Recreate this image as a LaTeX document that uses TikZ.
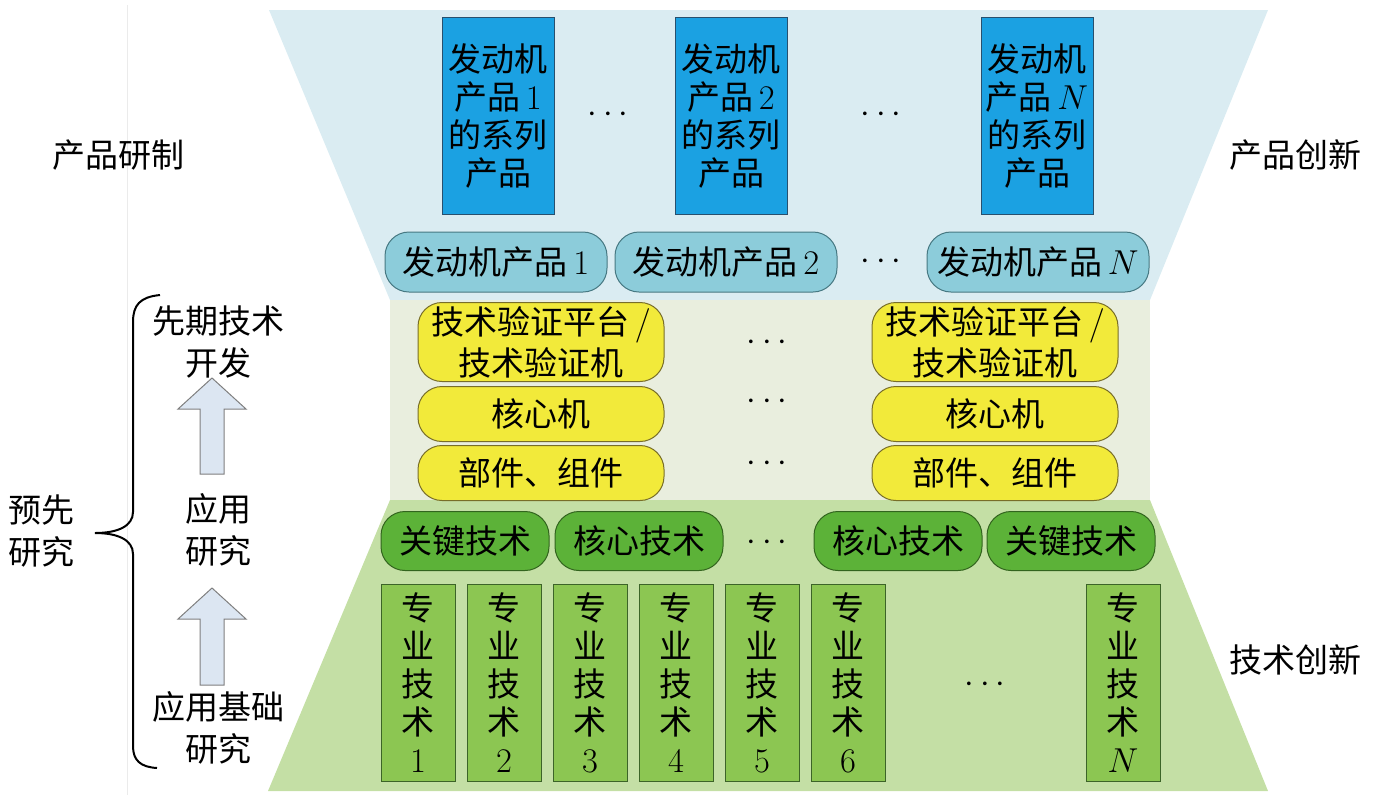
\documentclass[tikz,border=0pt]{standalone}
\usepackage{fontspec}
\usepackage{tikz}
\usetikzlibrary{positioning}
\newfontfamily\cjk{Noto Sans CJK SC}
\definecolor{bandSky}{RGB}{218,236,242}
\definecolor{bandSand}{RGB}{233,238,222}
\definecolor{bandLeaf}{RGB}{196,223,165}
\definecolor{seriesBlue}{RGB}{27,161,226}
\definecolor{seriesEdge}{RGB}{40,80,110}
\definecolor{prodTeal}{RGB}{140,204,218}
\definecolor{prodEdge}{RGB}{70,120,130}
\definecolor{verifYellow}{RGB}{242,234,58}
\definecolor{verifEdge}{RGB}{120,110,40}
\definecolor{keyGreen}{RGB}{92,178,56}
\definecolor{keyEdge}{RGB}{50,100,30}
\definecolor{specGreen}{RGB}{140,198,82}
\definecolor{specEdge}{RGB}{60,100,40}
\definecolor{arrowFill}{RGB}{220,230,242}
\definecolor{arrowEdge}{RGB}{127,127,127}

\tikzset{
  base/.style={font=\cjk\fontsize{16.5}{19}\selectfont,inner sep=0pt,align=center},
  series/.style={base,draw=seriesEdge,fill=seriesBlue,line width=0.5pt,
                 minimum width=56pt,minimum height=98.5pt},
  prod/.style={base,draw=prodEdge,fill=prodTeal,rounded corners=12pt,line width=0.5pt,
               minimum width=111pt,minimum height=30pt},
  verif/.style={base,draw=verifEdge,fill=verifYellow,rounded corners=12pt,line width=0.5pt,
                minimum width=123pt,minimum height=27.5pt},
  keytech/.style={base,draw=keyEdge,fill=keyGreen,rounded corners=12pt,line width=0.5pt,
                  minimum width=84pt,minimum height=29.5pt},
  spec/.style={base,draw=specEdge,fill=specGreen,line width=0.5pt,
               minimum width=37pt,minimum height=98.5pt},
  dots/.style={base},
  side/.style={base,font=\cjk\fontsize{16.5}{21}\selectfont},
  blockarrow/.style={fill=arrowFill,draw=arrowEdge,line width=0.5pt}
}

\begin{document}
\begin{tikzpicture}[x=0.5pt,y=-0.5pt]
\useasboundingbox (0,0) rectangle (1376,800);
\fill[bandSky] (269,10) -- (1268,10) -- (1150,300) -- (390,300) -- cycle;
\fill[bandSand] (390,300) rectangle (1150,500);
\fill[bandLeaf] (390,500) -- (1150,500) -- (1268,791) -- (268,791) -- cycle;
\draw[black!8] (127,5) -- (127,795);

\foreach \n/\x in {1/498,2/731,N/1037}
{
  \node[series] (series\n) at (\x,116) {发动机\\产品\,$\n$\\的系列\\产品};
}
\node[dots] (dotsA) at (608,115) {$\cdots$};
\node[dots] (dotsB) at (881,115) {$\cdots$};

\foreach \n/\x in {1/496,2/726,N/1038}
{
  \node[prod] (prod\n) at (\x,262) {发动机产品\,$\n$};
}
\node[dots] (dotsC) at (881,262) {$\cdots$};

\foreach \c/\x in {1/541,N/995}
{
  \node[verif,minimum height=39.5pt,font=\cjk\fontsize{16.5}{20.5}\selectfont]
    (verif\c) at (\x,342) {技术验证平台\,$/$\\技术验证机};
  \node[verif] (core\c) at (\x,414) {核心机};
  \node[verif] (part\c) at (\x,473) {部件、组件};
}
\node[dots] (dotsD) at (767,343) {$\cdots$};
\node[dots] (dotsE) at (767,402) {$\cdots$};
\node[dots] (dotsF) at (767,464) {$\cdots$};

\foreach \n/\x/\lbl in {1/465/关键技术,2/639/核心技术,3/898/核心技术,4/1071/关键技术}
{
  \node[keytech] (key\n) at (\x,541) {\lbl};
}
\node[dots] (dotsG) at (767,543) {$\cdots$};

\foreach \n in {1,...,6}
{
  \pgfmathsetmacro{\x}{418+86*(\n-1)}
  \node[spec] (spec\n) at (\x,683) {专\\业\\技\\术\\$\n$};
}
\node[spec] (specN) at (1123,683) {专\\业\\技\\术\\$N$};
\node[dots] (dotsH) at (985,685) {$\cdots$};

\node[side] (rd) at (118,155) {产品研制};
\node[side] (pinno) at (1295,155) {产品创新};
\node[side] (tinno) at (1295,660) {技术创新};
\node[side] (adv) at (218,342) {先期技术\\开发};
\node[side] (appl) at (218,530) {应用\\研究};
\node[side] (basic) at (218,728) {应用基础\\研究};
\node[side] (pre) at (42,531) {预先\\研究};

\foreach \t/\b in {378/474,588/685}
{
  \filldraw[blockarrow] (200,\b) -- (200,\t+31) -- (178,\t+31) -- (212,\t)
    -- (246,\t+31) -- (224,\t+31) -- (224,\b) -- cycle;
}

\draw[line width=1pt] (160,295) .. controls (140,297) and (133,305) .. (133,322)
  -- (133,512) .. controls (133,526) and (118,533) .. (95,533)
  .. controls (118,533) and (133,540) .. (133,554)
  -- (133,746) .. controls (133,760) and (140,767) .. (157,768);
\end{tikzpicture}
\end{document}
